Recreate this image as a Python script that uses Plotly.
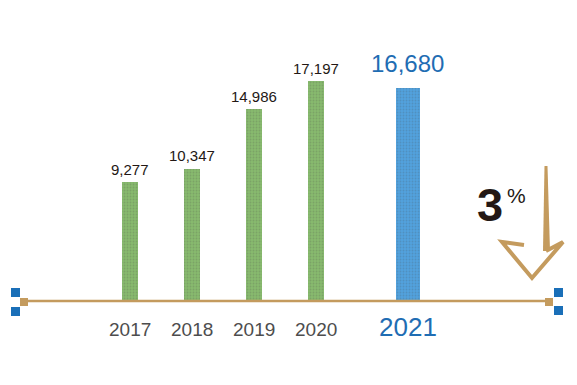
import plotly.graph_objects as go

# ---- data ----
years = ["2017", "2018", "2019", "2020", "2021"]
values = [9277, 10347, 14986, 17197, 16680]
value_labels = ["9,277", "10,347", "14,986", "17,197", "16,680"]
x_pos = [0, 1, 2, 3, 4.48]
change_text = "3"

W, H = 577, 385
GREEN = "#88BA6E"
BLUE = "#52A2DE"
TAN = "#C49B5E"
SQBLUE = "#1A6FB8"

def px(x):
    return x / W

def py(y):
    return 1 - y / H

fig = go.Figure()

bar_colors = [GREEN] * 4 + [BLUE]
widths = [0.245] * 4 + [0.39]
fig.add_trace(go.Bar(
    x=x_pos, y=values, width=widths,
    marker=dict(color=bar_colors, line=dict(width=0),
                pattern=dict(shape=".", fgcolor=["#5F9E4B"] * 4 + ["#2F86CF"],
                             fgopacity=0.2, size=3, solidity=0.3)),
    hoverinfo="skip",
))

annotations = []
for i, (xv, v, lab, yr) in enumerate(zip(x_pos, values, value_labels, years)):
    last = i == len(years) - 1
    annotations.append(dict(
        x=xv, y=v, xref="x", yref="y", text=lab, showarrow=False,
        yanchor="middle", yshift=24 if last else 13,
        font=dict(family="Liberation Sans, Arial, sans-serif",
                  size=24 if last else 15,
                  color="#1F6DB3" if last else "#231815"),
    ))
    annotations.append(dict(
        x=xv, y=0, xref="x", yref="y", text=yr, showarrow=False,
        yanchor="middle", yshift=-26 if last else -28,
        font=dict(family="Liberation Sans, Arial, sans-serif",
                  size=26 if last else 19,
                  color="#1F6DB3" if last else "#4D4D4D"),
    ))

annotations.append(dict(
    x=px(490), y=py(205), xref="paper", yref="paper", text="<b>" + change_text + "</b>",
    showarrow=False, xanchor="center", yanchor="middle",
    font=dict(family="Liberation Sans, Arial, sans-serif", size=47, color="#231815"),
))
annotations.append(dict(
    x=px(516), y=py(196), xref="paper", yref="paper", text="%",
    showarrow=False, xanchor="center", yanchor="middle",
    font=dict(family="Liberation Sans, Arial, sans-serif", size=21, color="#231815"),
))

shapes = []
# axis line
shapes.append(dict(type="line", xref="paper", yref="y", x0=px(22), x1=px(550), y0=0, y1=0,
                   line=dict(color=TAN, width=2.5), layer="above"))
# end squares
def sq(x0, y0, x1, y1, color):
    return dict(type="rect", xref="paper", yref="paper",
                x0=px(x0), x1=px(x1), y0=py(y1), y1=py(y0),
                fillcolor=color, line=dict(width=0), layer="above")
shapes += [
    sq(11, 288, 20, 297, SQBLUE), sq(11, 307, 20, 316, SQBLUE), sq(20, 298, 28, 306, TAN),
    sq(554, 288, 563, 297, SQBLUE), sq(554, 306, 563, 315, SQBLUE), sq(545, 298, 553, 306, TAN),
]

def path(points, close=False):
    s = "M " + " L ".join(f"{px(x):.5f},{py(y):.5f}" for x, y in points)
    return s + (" Z" if close else "")

# arrow shaft (tapered brush)
shapes.append(dict(type="path", xref="paper", yref="paper",
                   path=path([(544.5, 166), (547.5, 166), (550, 251), (543, 251)], close=True),
                   fillcolor=TAN, line=dict(width=0)))
# arrow head outline
shapes.append(dict(type="path", xref="paper", yref="paper",
                   path=path([(524, 245), (502, 242), (532, 278), (563, 242), (546, 251)]),
                   line=dict(color=TAN, width=4)))

ypx = 0.01279
fig.update_layout(
    width=W, height=H,
    margin=dict(l=0, r=0, t=0, b=0),
    paper_bgcolor="white", plot_bgcolor="white",
    showlegend=False,
    xaxis=dict(range=[-130 / 62, (W - 130) / 62], visible=False, fixedrange=True),
    yaxis=dict(range=[-(H - 301) / ypx, 301 / ypx], visible=False, fixedrange=True),
    annotations=annotations, shapes=shapes,
    bargap=0,
)

fig.write_html("out.html", config={"displayModeBar": False},
               post_script="document.body.style.margin='0';document.body.style.overflow='hidden';")
